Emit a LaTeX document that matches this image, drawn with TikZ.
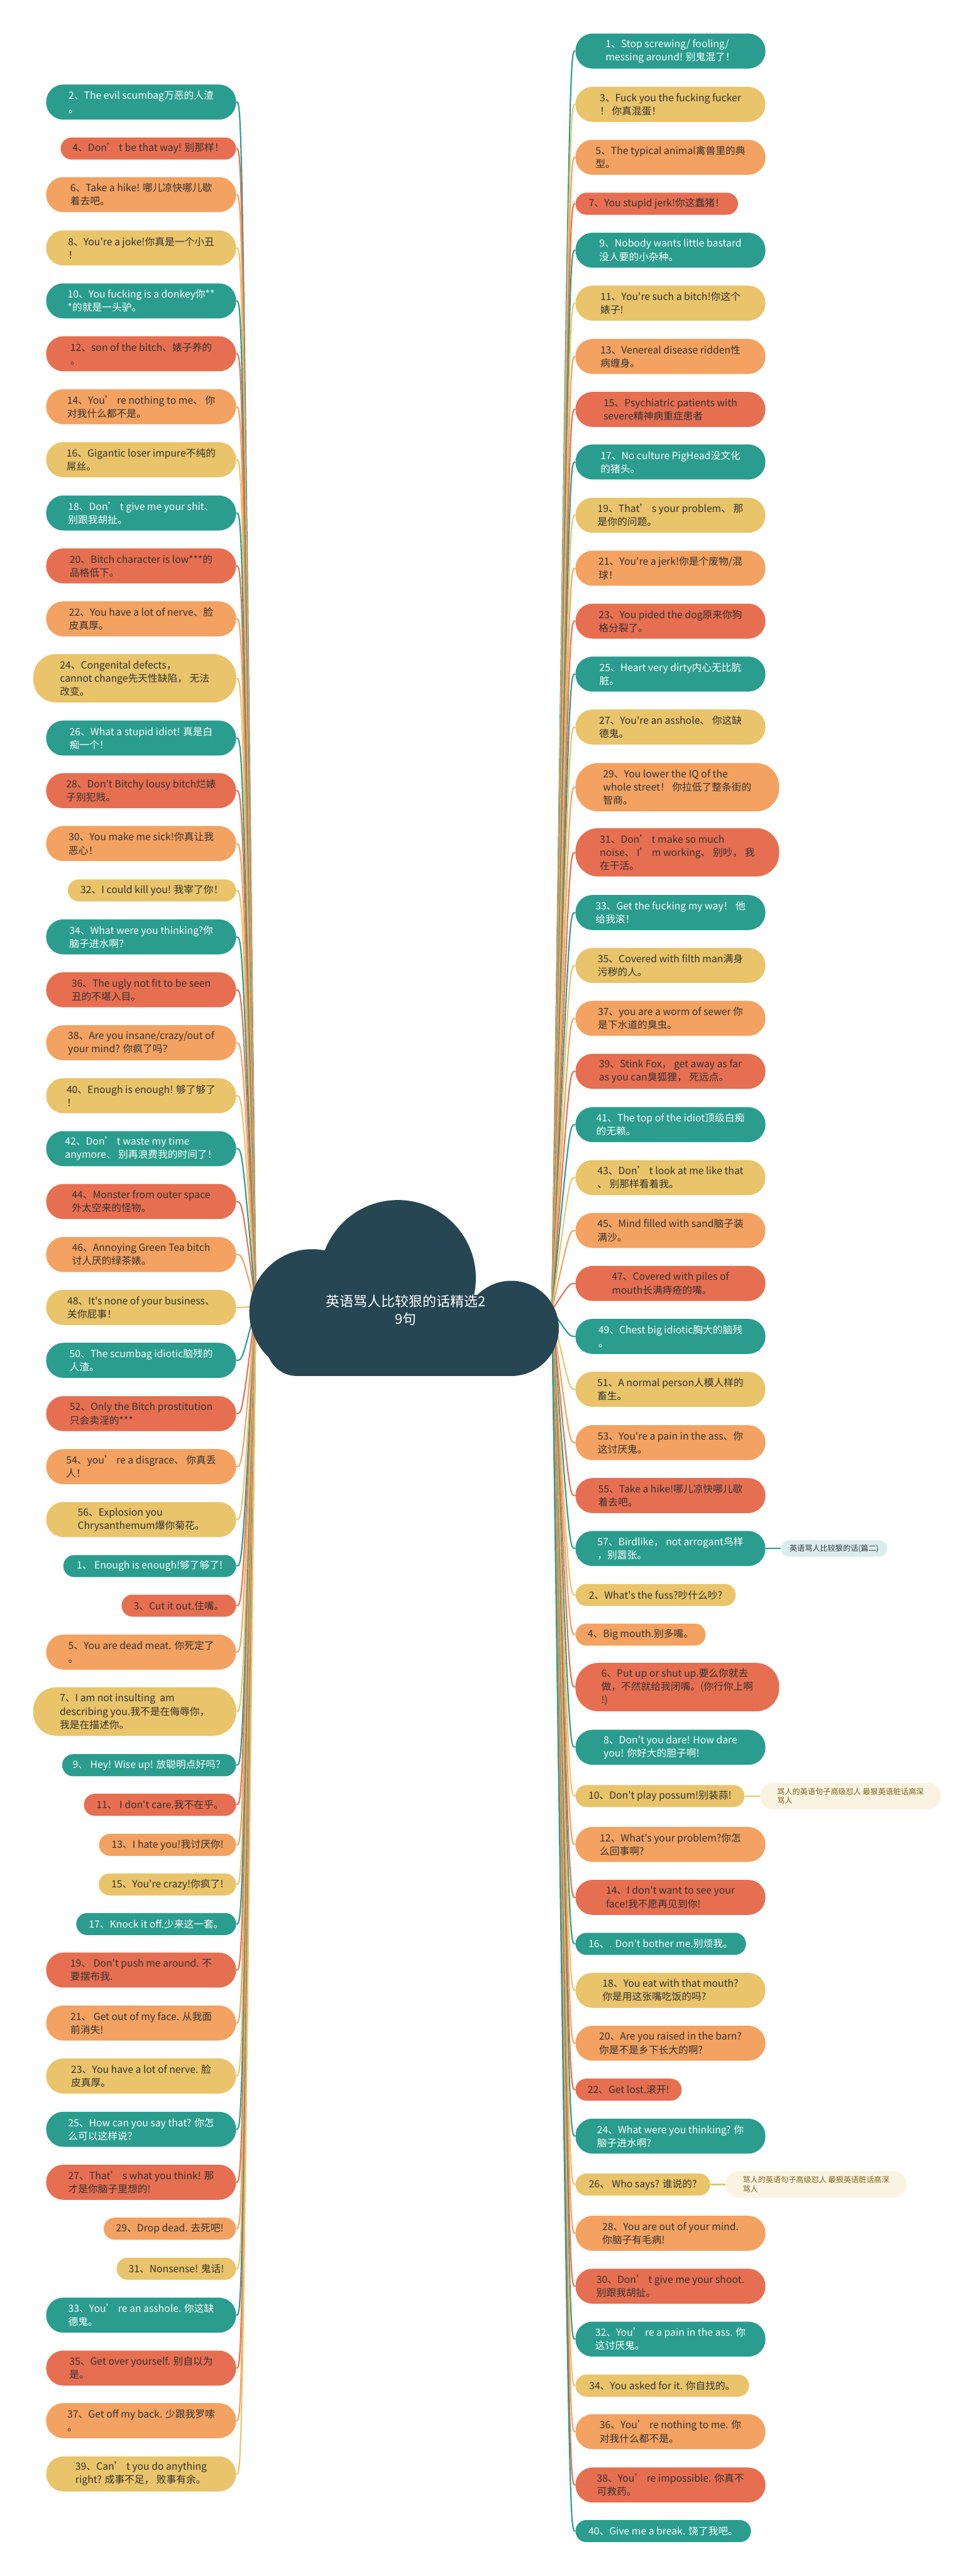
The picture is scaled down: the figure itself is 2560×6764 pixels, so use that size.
\documentclass[tikz,border=0pt]{standalone}
\usepackage{fontspec}
\setmainfont{Noto Sans CJK SC}[Ligatures=TeXOff]

\definecolor{cteal}{HTML}{2A9D8F}
\definecolor{cred}{HTML}{E76F51}
\definecolor{corange}{HTML}{F4A261}
\definecolor{cyellow}{HTML}{E9C46A}
\definecolor{ccloud}{HTML}{264653}
\definecolor{cink}{HTML}{333333}
\definecolor{cmint}{HTML}{D9EEEC}
\definecolor{ccream}{HTML}{FAF3E1}
\definecolor{cbrown}{HTML}{80601A}

\newcommand\leaffont{\fontsize{7.4pt}{9.9pt}\selectfont}
\newcommand\hubfont{\fontsize{10.3pt}{13.4pt}\selectfont}
\newcommand\notefont{\fontsize{5.7pt}{7pt}\selectfont}

\tikzset{
  leaf/.style={font=\leaffont, inner sep=1mm},
  widebox/.style={leaf, minimum width=49.9mm, minimum height=9.2mm, rounded corners=4.5mm, align=left},
  tallbox/.style={leaf, minimum height=12.7mm, rounded corners=6mm, align=left},
  shortbox/.style={leaf, minimum height=5.8mm, rounded corners=2.9mm},
  tealbox/.style={fill=cteal, text=white},
  redbox/.style={fill=cred, text=cink},
  orangebox/.style={fill=corange, text=cink},
  yellowbox/.style={fill=cyellow, text=cink},
  notebox/.style={font=\notefont, inner sep=1mm, align=left},
  twig/.style={line width=0.35mm},
}

\begin{document}
\begin{tikzpicture}[x=0.1mm, y=-0.1mm]
% Canvas
\fill[white] (0,0) rectangle (2560,6764);
\useasboundingbox (0,0) rectangle (2560,6764);

% Branch origins inside the cloud
\coordinate (OL) at (672,3430);
\coordinate (OR) at (1450,3440);

% Left branches
\node[widebox, tealbox, anchor=east] (l2) at (621,268) {2、The evil scumbag万恶的人渣\\。};
\node[shortbox, redbox, anchor=east, minimum width=46.1mm] (l4) at (621,390) {4、Don’ t be that way! 别那样！};
\node[widebox, orangebox, anchor=east] (l6) at (621,511) {6、Take a hike! 哪儿凉快哪儿歇\\着去吧。};
\node[widebox, yellowbox, anchor=east] (l8) at (621,651) {8、You're a joke!你真是一个小丑\\！};
\node[widebox, tealbox, anchor=east] (l10) at (621,790) {10、You fucking is a donkey你**\\*的就是一头驴。};
\node[widebox, redbox, anchor=east] (l12) at (621,929) {12、son of the bitch、婊子养的\\。};
\node[widebox, orangebox, anchor=east] (l14) at (621,1068) {14、You’ re nothing to me、 你\\对我什么都不是。};
\node[widebox, yellowbox, anchor=east] (l16) at (621,1207) {16、Gigantic loser impure不纯的\\屌丝。};
\node[widebox, tealbox, anchor=east] (l18) at (621,1347) {18、Don’ t give me your shit、\\别跟我胡扯。};
\node[widebox, redbox, anchor=east] (l20) at (621,1486) {20、Bitch character is low***的\\品格低下。};
\node[widebox, orangebox, anchor=east] (l22) at (621,1625) {22、You have a lot of nerve、脸\\皮真厚。};
\node[tallbox, yellowbox, anchor=east, minimum width=53.3mm] (l24) at (621,1781) {24、Congenital defects，\\cannot change先天性缺陷， 无法\\改变。};
\node[widebox, tealbox, anchor=east] (l26) at (621,1938) {26、What a stupid idiot! 真是白\\痴一个！};
\node[widebox, redbox, anchor=east] (l28) at (621,2076) {28、Don't Bitchy lousy bitch烂婊\\子别犯贱。};
\node[widebox, orangebox, anchor=east] (l30) at (621,2215) {30、You make me sick!你真让我\\恶心！};
\node[shortbox, yellowbox, anchor=east, minimum width=44.2mm] (l32) at (621,2338) {32、I could kill you! 我宰了你！};
\node[widebox, tealbox, anchor=east] (l34) at (621,2460) {34、What were you thinking?你\\脑子进水啊？};
\node[widebox, redbox, anchor=east] (l36) at (621,2599) {36、The ugly not fit to be seen\\丑的不堪入目。};
\node[widebox, orangebox, anchor=east] (l38) at (621,2738) {38、Are you insane/crazy/out of\\ your mind? 你疯了吗？};
\node[widebox, yellowbox, anchor=east] (l40) at (621,2877) {40、Enough is enough! 够了够了\\！};
\node[widebox, tealbox, anchor=east] (l42) at (621,3016) {42、Don’ t waste my time\\anymore、 别再浪费我的时间了！};
\node[widebox, redbox, anchor=east] (l44) at (621,3155) {44、Monster from outer space\\外太空来的怪物。};
\node[widebox, orangebox, anchor=east] (l46) at (621,3294) {46、Annoying Green Tea bitch\\讨人厌的绿茶婊。};
\node[widebox, yellowbox, anchor=east] (l48) at (621,3433) {48、It's none of your business、\\关你屁事！};
\node[widebox, tealbox, anchor=east] (l50) at (621,3572) {50、The scumbag idiotic脑残的\\人渣。};
\node[widebox, redbox, anchor=east] (l52) at (621,3712) {52、Only the Bitch prostitution\\只会卖淫的***};
\node[widebox, orangebox, anchor=east] (l54) at (621,3851) {54、you’ re a disgrace、 你真丢\\人！};
\node[widebox, yellowbox, anchor=east] (l56) at (621,3990) {56、Explosion you\\Chrysanthemum爆你菊花。};
\node[shortbox, tealbox, anchor=east, minimum width=45.4mm] (l1) at (621,4112) {1、 Enough is enough!够了够了!};
\node[shortbox, redbox, anchor=east, minimum width=30.1mm] (l3) at (621,4216) {3、Cut it out.住嘴。};
\node[widebox, orangebox, anchor=east] (l5) at (621,4338) {5、You are dead meat. 你死定了\\。};
\node[tallbox, yellowbox, anchor=east, minimum width=53.3mm] (l7) at (621,4494) {7、I am not insulting\ \ am\\describing you.我不是在侮辱你，\\我是在描述你。};
\node[shortbox, tealbox, anchor=east, minimum width=45.7mm] (l9) at (621,4635) {9、 Hey! Wise up! 放聪明点好吗？};
\node[shortbox, redbox, anchor=east, minimum width=40mm] (l11) at (621,4739) {11、 I don't care.我不在乎。};
\node[shortbox, orangebox, anchor=east, minimum width=36mm] (l13) at (621,4844) {13、I hate you!我讨厌你!};
\node[shortbox, yellowbox, anchor=east, minimum width=36.1mm] (l15) at (621,4948) {15、You're crazy!你疯了!};
\node[shortbox, tealbox, anchor=east, minimum width=42mm] (l17) at (621,5052) {17、Knock it off.少来这一套。};
\node[widebox, redbox, anchor=east] (l19) at (621,5173) {19、 Don't push me around. 不\\要摆布我.};
\node[widebox, orangebox, anchor=east] (l21) at (621,5312) {21、 Get out of my face. 从我面\\前消失!};
\node[widebox, yellowbox, anchor=east] (l23) at (621,5451) {23、You have a lot of nerve. 脸\\皮真厚。};
\node[widebox, tealbox, anchor=east] (l25) at (621,5591) {25、How can you say that? 你怎\\么可以这样说？};
\node[widebox, redbox, anchor=east] (l27) at (621,5730) {27、That’ s what you think! 那\\才是你脑子里想的!};
\node[shortbox, orangebox, anchor=east, minimum width=34.8mm] (l29) at (621,5852) {29、Drop dead. 去死吧!};
\node[shortbox, yellowbox, anchor=east, minimum width=31.4mm] (l31) at (621,5957) {31、Nonsense! 鬼话!};
\node[widebox, tealbox, anchor=east] (l33) at (621,6079) {33、You’ re an asshole. 你这缺\\德鬼。};
\node[widebox, redbox, anchor=east] (l35) at (621,6218) {35、Get over yourself. 别自以为\\是。};
\node[widebox, orangebox, anchor=east] (l37) at (621,6356) {37、Get off my back. 少跟我罗嗦\\。};
\node[widebox, yellowbox, anchor=east] (l39) at (621,6496) {39、Can’ t you do anything\\right? 成事不足， 败事有余。};

% Right branches
\node[widebox, tealbox, anchor=west] (r1) at (1511,134) {1、Stop screwing/ fooling/\\messing around! 别鬼混了！};
\node[widebox, yellowbox, anchor=west] (r3) at (1511,274) {3、Fuck you the fucking fucker\\！ 你真混蛋！};
\node[widebox, orangebox, anchor=west] (r5) at (1511,413) {5、The typical animal禽兽里的典\\型。};
\node[shortbox, redbox, anchor=west, minimum width=42.7mm] (r7) at (1511,535) {7、You stupid jerk!你这蠢猪！};
\node[widebox, tealbox, anchor=west] (r9) at (1511,657) {9、Nobody wants little bastard\\没人要的小杂种。};
\node[widebox, yellowbox, anchor=west] (r11) at (1511,796) {11、You're such a bitch!你这个\\婊子!};
\node[widebox, orangebox, anchor=west] (r13) at (1511,936) {13、Venereal disease ridden性\\病缠身。};
\node[widebox, redbox, anchor=west] (r15) at (1511,1075) {15、Psychiatric patients with\\severe精神病重症患者};
\node[widebox, tealbox, anchor=west] (r17) at (1511,1213) {17、No culture PigHead没文化\\的猪头。};
\node[widebox, yellowbox, anchor=west] (r19) at (1511,1353) {19、That’ s your problem、 那\\是你的问题。};
\node[widebox, orangebox, anchor=west] (r21) at (1511,1492) {21、You're a jerk!你是个废物/混\\球！};
\node[widebox, redbox, anchor=west] (r23) at (1511,1631) {23、You pided the dog原来你狗\\格分裂了。};
\node[widebox, tealbox, anchor=west] (r25) at (1511,1770) {25、Heart very dirty内心无比肮\\脏。};
\node[widebox, yellowbox, anchor=west] (r27) at (1511,1909) {27、You're an asshole、 你这缺\\德鬼。};
\node[tallbox, orangebox, anchor=west, minimum width=53.5mm] (r29) at (1511,2067) {29、You lower the IQ of the\\whole street！ 你拉低了整条街的\\智商。};
\node[tallbox, redbox, anchor=west, minimum width=53.5mm] (r31) at (1511,2238) {31、Don’ t make so much\\noise、 I’ m working、 别吵， 我\\在干活。};
\node[widebox, tealbox, anchor=west] (r33) at (1511,2396) {33、Get the fucking my way！ 他\\给我滚！};
\node[widebox, yellowbox, anchor=west] (r35) at (1511,2535) {35、Covered with filth man满身\\污秽的人。};
\node[widebox, orangebox, anchor=west] (r37) at (1511,2674) {37、you are a worm of sewer 你\\是下水道的臭虫。};
\node[widebox, redbox, anchor=west] (r39) at (1511,2813) {39、Stink Fox， get away as far\\as you can臭狐狸， 死远点。};
\node[widebox, tealbox, anchor=west] (r41) at (1511,2953) {41、The top of the idiot顶级白痴\\的无赖。};
\node[widebox, yellowbox, anchor=west] (r43) at (1511,3092) {43、Don’ t look at me like that\\、 别那样看着我。};
\node[widebox, orangebox, anchor=west] (r45) at (1511,3231) {45、Mind filled with sand脑子装\\满沙。};
\node[widebox, redbox, anchor=west] (r47) at (1511,3370) {47、Covered with piles of\\mouth长满痔疮的嘴。};
\node[widebox, tealbox, anchor=west] (r49) at (1511,3509) {49、Chest big idiotic胸大的脑残\\。};
\node[widebox, yellowbox, anchor=west] (r51) at (1511,3648) {51、A normal person人模人样的\\畜生。};
\node[widebox, orangebox, anchor=west] (r53) at (1511,3788) {53、You're a pain in the ass、你\\这讨厌鬼。};
\node[widebox, redbox, anchor=west] (r55) at (1511,3927) {55、Take a hike!哪儿凉快哪儿歇\\着去吧。};
\node[widebox, tealbox, anchor=west] (r57) at (1511,4066) {57、Birdlike， not arrogant鸟样\\，别嚣张。};
\node[shortbox, yellowbox, anchor=west, minimum width=42.1mm] (r2) at (1511,4188) {2、What's the fuss?吵什么吵?};
\node[shortbox, orangebox, anchor=west, minimum width=34.2mm] (r4) at (1511,4292) {4、Big mouth.别多嘴。};
\node[tallbox, redbox, anchor=west, minimum width=53.5mm] (r6) at (1511,4430) {6、Put up or shut up.要么你就去\\做，不然就给我闭嘴。(你行你上啊\\!)};
\node[widebox, tealbox, anchor=west] (r8) at (1511,4588) {8、Don't you dare! How dare\\you! 你好大的胆子啊!};
\node[shortbox, yellowbox, anchor=west, minimum width=44.4mm] (r10) at (1511,4716) {10、Don't play possum!别装蒜!};
\node[widebox, orangebox, anchor=west] (r12) at (1511,4843) {12、What's your problem?你怎\\么回事啊?};
\node[widebox, redbox, anchor=west] (r14) at (1511,4982) {14、I don't want to see your\\face!我不愿再见到你!};
\node[shortbox, tealbox, anchor=west, minimum width=44.8mm] (r16) at (1511,5104) {16、. Don't bother me.别烦我。};
\node[widebox, yellowbox, anchor=west] (r18) at (1511,5226) {18、You eat with that mouth?\\你是用这张嘴吃饭的吗?};
\node[widebox, orangebox, anchor=west] (r20) at (1511,5365) {20、Are you raised in the barn?\\你是不是乡下长大的啊?};
\node[shortbox, redbox, anchor=west, minimum width=27.9mm] (r22) at (1511,5487) {22、Get lost.滚开!};
\node[widebox, tealbox, anchor=west] (r24) at (1511,5609) {24、What were you thinking? 你\\脑子进水啊?};
\node[shortbox, yellowbox, anchor=west, minimum width=35.4mm] (r26) at (1511,5736) {26、 Who says? 谁说的?};
\node[widebox, orangebox, anchor=west] (r28) at (1511,5864) {28、You are out of your mind.\\你脑子有毛病!};
\node[widebox, redbox, anchor=west] (r30) at (1511,6003) {30、Don’ t give me your shoot.\\ 别跟我胡扯。};
\node[widebox, tealbox, anchor=west] (r32) at (1511,6142) {32、You’ re a pain in the ass. 你\\这讨厌鬼。};
\node[shortbox, yellowbox, anchor=west, minimum width=45.6mm] (r34) at (1511,6264) {34、You asked for it. 你自找的。};
\node[widebox, orangebox, anchor=west] (r36) at (1511,6385) {36、You’ re nothing to me. 你\\对我什么都不是。};
\node[widebox, redbox, anchor=west] (r38) at (1511,6525) {38、You’ re impossible. 你真不\\可救药。};
\node[shortbox, tealbox, anchor=west, minimum width=46.1mm] (r40) at (1511,6646) {40、Give me a break. 饶了我吧。};

% Side notes
\node[notebox, fill=cmint, text=cink, anchor=west, minimum width=27.9mm, minimum height=4.3mm, rounded corners=2.1mm] (s57) at (2051,4066) {英语骂人比较狠的话(篇二)};
\node[notebox, fill=ccream, text=cbrown, anchor=west, minimum width=47.5mm, minimum height=7mm, rounded corners=3.5mm] (s10) at (1996,4716) {骂人的英语句子高级怼人 最狠英语脏话高深\\骂人};
\node[notebox, fill=ccream, text=cbrown, anchor=west, minimum width=47.6mm, minimum height=7mm, rounded corners=3.5mm] (s26) at (1905,5736) {骂人的英语句子高级怼人 最狠英语脏话高深\\骂人};
\draw[twig, cteal] (r57.east) -- (s57.west);
\draw[twig, cyellow] (r10.east) -- (s10.west);
\draw[twig, cyellow] (r26.east) -- (s26.west);

% Left connectors
\draw[twig, cteal] (OL) .. controls (636,268) .. (l2.east);
\draw[twig, cred] (OL) .. controls (636,390) .. (l4.east);
\draw[twig, corange] (OL) .. controls (636,511) .. (l6.east);
\draw[twig, cyellow] (OL) .. controls (636,651) .. (l8.east);
\draw[twig, cteal] (OL) .. controls (636,790) .. (l10.east);
\draw[twig, cred] (OL) .. controls (636,929) .. (l12.east);
\draw[twig, corange] (OL) .. controls (636,1068) .. (l14.east);
\draw[twig, cyellow] (OL) .. controls (636,1207) .. (l16.east);
\draw[twig, cteal] (OL) .. controls (636,1347) .. (l18.east);
\draw[twig, cred] (OL) .. controls (636,1486) .. (l20.east);
\draw[twig, corange] (OL) .. controls (636,1625) .. (l22.east);
\draw[twig, cyellow] (OL) .. controls (636,1781) .. (l24.east);
\draw[twig, cteal] (OL) .. controls (636,1938) .. (l26.east);
\draw[twig, cred] (OL) .. controls (636,2076) .. (l28.east);
\draw[twig, corange] (OL) .. controls (636,2215) .. (l30.east);
\draw[twig, cyellow] (OL) .. controls (636,2338) .. (l32.east);
\draw[twig, cteal] (OL) .. controls (636,2460) .. (l34.east);
\draw[twig, cred] (OL) .. controls (636,2599) .. (l36.east);
\draw[twig, corange] (OL) .. controls (636,2738) .. (l38.east);
\draw[twig, cyellow] (OL) .. controls (636,2877) .. (l40.east);
\draw[twig, cteal] (OL) .. controls (636,3016) .. (l42.east);
\draw[twig, cred] (OL) .. controls (636,3155) .. (l44.east);
\draw[twig, corange] (OL) .. controls (636,3294) .. (l46.east);
\draw[twig, cyellow] (OL) .. controls (636,3433) .. (l48.east);
\draw[twig, cteal] (OL) .. controls (636,3572) .. (l50.east);
\draw[twig, cred] (OL) .. controls (636,3712) .. (l52.east);
\draw[twig, corange] (OL) .. controls (636,3851) .. (l54.east);
\draw[twig, cyellow] (OL) .. controls (636,3990) .. (l56.east);
\draw[twig, cteal] (OL) .. controls (636,4112) .. (l1.east);
\draw[twig, cred] (OL) .. controls (636,4216) .. (l3.east);
\draw[twig, corange] (OL) .. controls (636,4338) .. (l5.east);
\draw[twig, cyellow] (OL) .. controls (636,4494) .. (l7.east);
\draw[twig, cteal] (OL) .. controls (636,4635) .. (l9.east);
\draw[twig, cred] (OL) .. controls (636,4739) .. (l11.east);
\draw[twig, corange] (OL) .. controls (636,4844) .. (l13.east);
\draw[twig, cyellow] (OL) .. controls (636,4948) .. (l15.east);
\draw[twig, cteal] (OL) .. controls (636,5052) .. (l17.east);
\draw[twig, cred] (OL) .. controls (636,5173) .. (l19.east);
\draw[twig, corange] (OL) .. controls (636,5312) .. (l21.east);
\draw[twig, cyellow] (OL) .. controls (636,5451) .. (l23.east);
\draw[twig, cteal] (OL) .. controls (636,5591) .. (l25.east);
\draw[twig, cred] (OL) .. controls (636,5730) .. (l27.east);
\draw[twig, corange] (OL) .. controls (636,5852) .. (l29.east);
\draw[twig, cyellow] (OL) .. controls (636,5957) .. (l31.east);
\draw[twig, cteal] (OL) .. controls (636,6079) .. (l33.east);
\draw[twig, cred] (OL) .. controls (636,6218) .. (l35.east);
\draw[twig, corange] (OL) .. controls (636,6356) .. (l37.east);
\draw[twig, cyellow] (OL) .. controls (636,6496) .. (l39.east);

% Right connectors
\draw[twig, cteal] (OR) .. controls (1496,134) .. (r1.west);
\draw[twig, cyellow] (OR) .. controls (1496,274) .. (r3.west);
\draw[twig, corange] (OR) .. controls (1496,413) .. (r5.west);
\draw[twig, cred] (OR) .. controls (1496,535) .. (r7.west);
\draw[twig, cteal] (OR) .. controls (1496,657) .. (r9.west);
\draw[twig, cyellow] (OR) .. controls (1496,796) .. (r11.west);
\draw[twig, corange] (OR) .. controls (1496,936) .. (r13.west);
\draw[twig, cred] (OR) .. controls (1496,1075) .. (r15.west);
\draw[twig, cteal] (OR) .. controls (1496,1213) .. (r17.west);
\draw[twig, cyellow] (OR) .. controls (1496,1353) .. (r19.west);
\draw[twig, corange] (OR) .. controls (1496,1492) .. (r21.west);
\draw[twig, cred] (OR) .. controls (1496,1631) .. (r23.west);
\draw[twig, cteal] (OR) .. controls (1496,1770) .. (r25.west);
\draw[twig, cyellow] (OR) .. controls (1496,1909) .. (r27.west);
\draw[twig, corange] (OR) .. controls (1496,2067) .. (r29.west);
\draw[twig, cred] (OR) .. controls (1496,2238) .. (r31.west);
\draw[twig, cteal] (OR) .. controls (1496,2396) .. (r33.west);
\draw[twig, cyellow] (OR) .. controls (1496,2535) .. (r35.west);
\draw[twig, corange] (OR) .. controls (1496,2674) .. (r37.west);
\draw[twig, cred] (OR) .. controls (1496,2813) .. (r39.west);
\draw[twig, cteal] (OR) .. controls (1496,2953) .. (r41.west);
\draw[twig, cyellow] (OR) .. controls (1496,3092) .. (r43.west);
\draw[twig, corange] (OR) .. controls (1496,3231) .. (r45.west);
\draw[twig, cred] (OR) .. controls (1496,3370) .. (r47.west);
\draw[twig, cteal] (OR) .. controls (1496,3509) .. (r49.west);
\draw[twig, cyellow] (OR) .. controls (1496,3648) .. (r51.west);
\draw[twig, corange] (OR) .. controls (1496,3788) .. (r53.west);
\draw[twig, cred] (OR) .. controls (1496,3927) .. (r55.west);
\draw[twig, cteal] (OR) .. controls (1496,4066) .. (r57.west);
\draw[twig, cyellow] (OR) .. controls (1496,4188) .. (r2.west);
\draw[twig, corange] (OR) .. controls (1496,4292) .. (r4.west);
\draw[twig, cred] (OR) .. controls (1496,4430) .. (r6.west);
\draw[twig, cteal] (OR) .. controls (1496,4588) .. (r8.west);
\draw[twig, cyellow] (OR) .. controls (1496,4716) .. (r10.west);
\draw[twig, corange] (OR) .. controls (1496,4843) .. (r12.west);
\draw[twig, cred] (OR) .. controls (1496,4982) .. (r14.west);
\draw[twig, cteal] (OR) .. controls (1496,5104) .. (r16.west);
\draw[twig, cyellow] (OR) .. controls (1496,5226) .. (r18.west);
\draw[twig, corange] (OR) .. controls (1496,5365) .. (r20.west);
\draw[twig, cred] (OR) .. controls (1496,5487) .. (r22.west);
\draw[twig, cteal] (OR) .. controls (1496,5609) .. (r24.west);
\draw[twig, cyellow] (OR) .. controls (1496,5736) .. (r26.west);
\draw[twig, corange] (OR) .. controls (1496,5864) .. (r28.west);
\draw[twig, cred] (OR) .. controls (1496,6003) .. (r30.west);
\draw[twig, cteal] (OR) .. controls (1496,6142) .. (r32.west);
\draw[twig, cyellow] (OR) .. controls (1496,6264) .. (r34.west);
\draw[twig, corange] (OR) .. controls (1496,6385) .. (r36.west);
\draw[twig, cred] (OR) .. controls (1496,6525) .. (r38.west);
\draw[twig, cteal] (OR) .. controls (1496,6646) .. (r40.west);

% Cloud
\fill[ccloud] (1045,3356) circle (20.5mm);
\fill[ccloud] (820,3445) circle (16.5mm);
\fill[ccloud] (1343,3488) circle (12.5mm);
\fill[ccloud, rounded corners=8mm] (700,3400) rectangle (1420,3613);
\node[font=\hubfont, text=white, align=center] (hub) at (1066,3440) {英语骂人比较狠的话精选2\\9句};
\end{tikzpicture}
\end{document}
